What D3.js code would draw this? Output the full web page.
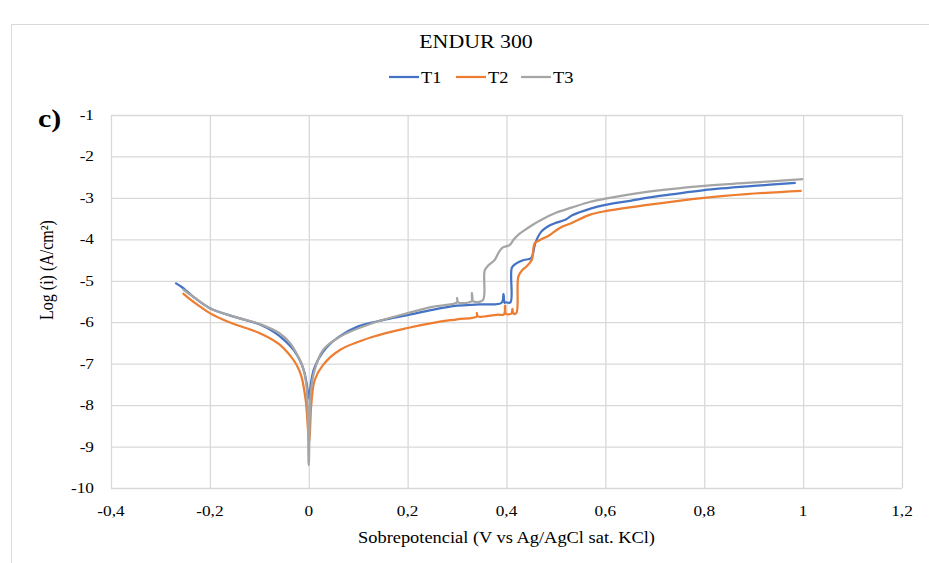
<!DOCTYPE html>
<html>
<head>
<meta charset="utf-8">
<script src="https://cdn.jsdelivr.net/npm/d3@7"></script>
<style>
  body { margin: 0; background: #fff; }
  text { font-family: "Liberation Serif", "Times New Roman", serif; fill: #000; }
</style>
</head>
<body>
<div id="chart-area"></div>
<script>
// Polarization curves, ENDUR 300
const seriesNames = ["T1", "T2", "T3"];
const seriesColors = ["#4472C4", "#ED7D31", "#A5A5A5"];

const t1Potential = [-0.27, -0.257, -0.245, -0.234, -0.2, -0.15, -0.1, -0.07, -0.045, -0.03, -0.018, -0.009, -0.004, 0.001,
    0.004, 0.01, 0.02, 0.035, 0.06, 0.1, 0.15, 0.2, 0.25, 0.3, 0.345, 0.39, 0.394, 0.396, 0.398, 0.408,
    0.411, 0.42, 0.435, 0.45, 0.458, 0.47, 0.49, 0.52, 0.533, 0.57, 0.6, 0.65, 0.7, 0.75, 0.8, 0.9, 0.985];
const t1LogI = [-5.05, -5.15, -5.27, -5.38, -5.66, -5.87, -6.05, -6.24, -6.48, -6.68, -6.92, -7.2, -7.5, -7.85,
    -7.5, -7.15, -6.88, -6.62, -6.36, -6.1, -5.95, -5.83, -5.7, -5.6, -5.57, -5.53, -5.32, -5.53, -5.52, -5.52,
    -4.68, -4.58, -4.5, -4.45, -4.1, -3.82, -3.65, -3.52, -3.42, -3.26, -3.17, -3.07, -2.97, -2.89, -2.81, -2.71, -2.64];

const t2Potential = [-0.255, -0.245, -0.234, -0.2, -0.175, -0.15, -0.1, -0.06, -0.038, -0.025, -0.015, -0.006, 0.001,
    0.005, 0.012, 0.029, 0.063, 0.13, 0.2, 0.26, 0.3, 0.34, 0.34, 0.342, 0.38, 0.395, 0.397, 0.399, 0.41, 0.412, 0.414, 0.42,
    0.424, 0.432, 0.44, 0.451, 0.457, 0.467, 0.487, 0.507, 0.533, 0.568, 0.6, 0.685, 0.8, 0.885, 0.997];
const t2LogI = [-5.3, -5.4, -5.5, -5.78, -5.93, -6.05, -6.26, -6.53, -6.8, -7.02, -7.3, -7.9, -8.9,
    -8.0, -7.4, -7.03, -6.67, -6.35, -6.14, -6.0, -5.93, -5.86, -5.78, -5.86, -5.82, -5.81, -5.6, -5.8, -5.79, -5.68, -5.79, -5.78,
    -4.9, -4.74, -4.66, -4.5, -4.1, -4.02, -3.9, -3.73, -3.6, -3.41, -3.32, -3.17, -3.0, -2.91, -2.83];

const t3Potential = [-0.255, -0.245, -0.234, -0.2, -0.15, -0.1, -0.06, -0.038, -0.025, -0.012, -0.004, 0.0,
    0.004, 0.012, 0.029, 0.063, 0.13, 0.2, 0.25, 0.3, 0.3, 0.302, 0.33, 0.33, 0.332, 0.352,
    0.356, 0.364, 0.376, 0.385, 0.392, 0.406, 0.415, 0.426, 0.44, 0.467, 0.5, 0.533, 0.568, 0.6, 0.68, 0.8, 0.885, 1.0];
const t3LogI = [-5.2, -5.29, -5.38, -5.66, -5.87, -6.04, -6.26, -6.5, -6.75, -7.08, -7.6, -9.45,
    -7.7, -7.15, -6.67, -6.35, -6.02, -5.78, -5.63, -5.52, -5.42, -5.52, -5.49, -5.3, -5.49, -5.47,
    -4.75, -4.62, -4.5, -4.3, -4.2, -4.14, -4.0, -3.87, -3.75, -3.55, -3.36, -3.23, -3.1, -3.02, -2.86, -2.71, -2.64, -2.55];

const xTicks = [-0.4, -0.2, 0, 0.2, 0.4, 0.6, 0.8, 1, 1.2];
const yTicks = [-10, -9, -8, -7, -6, -5, -4, -3, -2, -1];

const series = [
    {name: seriesNames[0], color: seriesColors[0], values: t1Potential.map((p, i) => [p, t1LogI[i]])},
    {name: seriesNames[1], color: seriesColors[1], values: t2Potential.map((p, i) => [p, t2LogI[i]])},
    {name: seriesNames[2], color: seriesColors[2], values: t3Potential.map((p, i) => [p, t3LogI[i]])}
];

const width = 929;
const height = 563;
const plot = {left: 111, right: 902, top: 115, bottom: 488};
const stretch = 1.15; // text in the picture is a bit wider than tall

const x = d3.scaleLinear().domain([-0.4, 1.2]).range([plot.left, plot.right]);
const y = d3.scaleLinear().domain([-10, -1]).range([plot.bottom, plot.top]);
const fmt = (d) => String(d).replace(".", ",");

const svg = d3.select("#chart-area")
    .append("svg")
        .attr("width", width)
        .attr("height", height);

function label(parent, px, py, txt, size, anchor) {
    return parent.append("text")
        .attr("transform", "translate(" + px + "," + py + ") scale(" + stretch + ",1)")
        .attr("text-anchor", anchor || "start")
        .attr("font-size", size + "px")
        .text(txt);
}

// chart frame
svg.append("rect")
    .attr("x", 11.5).attr("y", 24.5)
    .attr("width", width + 20).attr("height", height + 20)
    .attr("fill", "none")
    .attr("stroke", "#d9d9d9");

// grid
svg.append("g")
    .attr("transform", "translate(0," + plot.bottom + ")")
    .call(d3.axisBottom(x).tickValues(xTicks).tickSize(-(plot.bottom - plot.top)).tickFormat(""))
    .call(g => g.select(".domain").remove())
    .selectAll("line").attr("stroke", "#d9d9d9").attr("stroke-width", 1.3);
svg.append("g")
    .attr("transform", "translate(" + plot.left + ",0)")
    .call(d3.axisLeft(y).tickValues(yTicks).tickSize(-(plot.right - plot.left)).tickFormat(""))
    .call(g => g.select(".domain").remove())
    .selectAll("line").attr("stroke", "#d9d9d9").attr("stroke-width", 1.3);

// tick labels
const xLabels = svg.append("g");
xTicks.forEach(t => label(xLabels, x(t), 516, fmt(t), 15, "middle"));
const yLabels = svg.append("g");
yTicks.forEach(t => label(yLabels, 94, y(t) + 5, fmt(t), 15, "end"));

// curves
const line = d3.line()
    .x(d => x(d[0]))
    .y(d => y(d[1]))
    .curve(d3.curveCatmullRom.alpha(0.5));

svg.append("g").selectAll("path")
    .data(series).enter().append("path")
        .attr("d", d => line(d.values))
        .attr("fill", "none")
        .attr("stroke", d => d.color)
        .attr("stroke-width", 2.25)
        .attr("stroke-linejoin", "round");

// titles
label(svg, 476, 48, "ENDUR 300", 19, "middle");
label(svg, (plot.left + plot.right) / 2, 543, "Sobrepotencial (V vs Ag/AgCl sat. KCl)", 16, "middle");

svg.append("text")
    .attr("transform", "translate(53,270) scale(" + stretch + ",1) rotate(-90)")
    .attr("text-anchor", "middle")
    .attr("font-size", "16px")
    .text("Log (i) (A/cm²)");

label(svg, 38, 127, "c)", 26).attr("font-weight", "bold");

// legend
const legendX = [389, 456, 521];
const legend = svg.append("g").selectAll("g")
    .data(series).enter().append("g")
        .attr("transform", (d, i) => "translate(" + legendX[i] + ",77)");
legend.append("line")
    .attr("x1", 0).attr("x2", 30)
    .attr("stroke", d => d.color)
    .attr("stroke-width", 2.25);
legend.append("text")
    .attr("transform", "translate(32,5.5) scale(" + stretch + ",1)")
    .attr("font-size", "16px")
    .text(d => d.name);
</script>
</body>
</html>
